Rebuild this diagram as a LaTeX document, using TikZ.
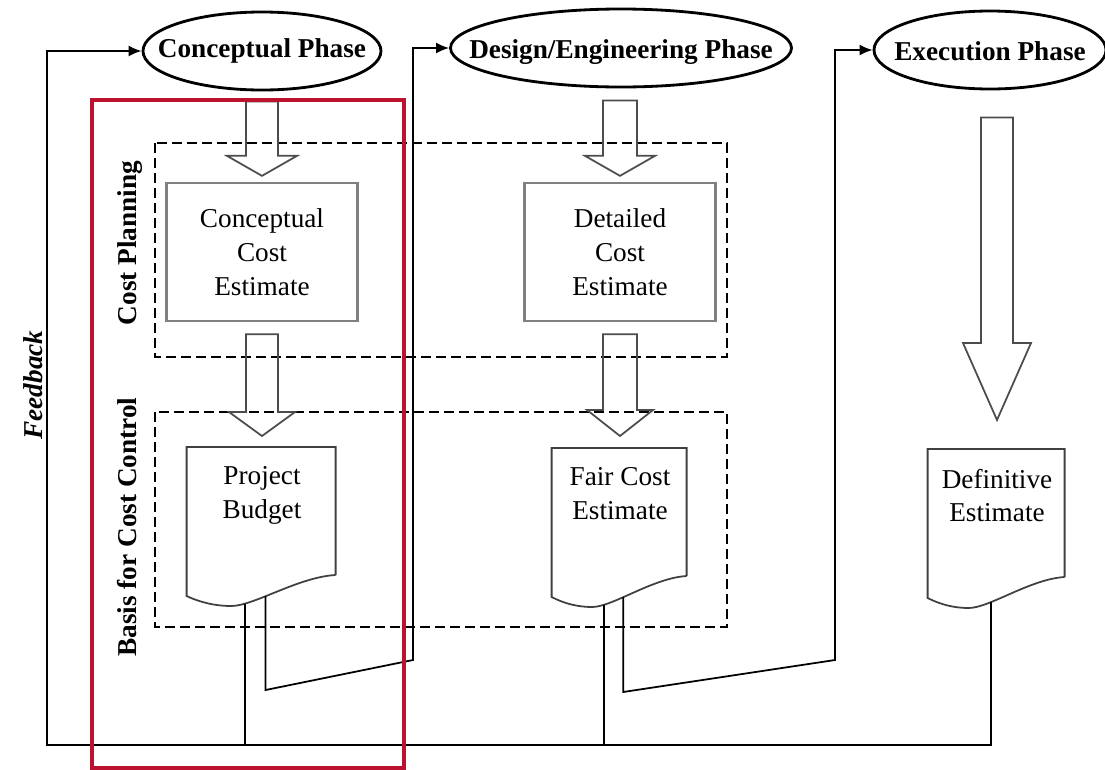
\documentclass[tikz,border=0pt]{standalone}
\usepackage{fontspec}
\setmainfont{Liberation Serif}
\usepackage{tikz}
\usetikzlibrary{arrows.meta,shapes.geometric,calc}

\definecolor{hilite}{RGB}{187,18,48}
\newcommand{\figfont}{\fontsize{15.5}{19.3}\selectfont}

% document outline under a doc node, widths in px
\newcommand{\docshape}[2]{%
  \begin{scope}[shift={(#1.north west)},xscale=#2/100]
    \draw[docline] (100,128) -- (100,0) -- (0,0) -- (0,149)
      .. controls (10,156) and (20,159) .. (30,159)
      .. controls (45,159) and (75,130) .. (100,128);
    \coordinate (#1-l) at (39,157);
    \coordinate (#1-r) at (53,149);
    \coordinate (#1-m) at (46,153);
  \end{scope}}

\begin{document}
\begin{tikzpicture}[x=0.2mm,y=-0.2mm,>={Latex[length=2.6mm,width=2.2mm]},
                    line width=1pt]
  \tikzstyle{every node}=[font=\figfont]
  \tikzstyle{phase}=[ellipse,draw,line width=1.6pt,inner sep=0pt,
                     text height=4.4mm,text depth=0.4mm,
                     minimum height=15.6mm,font=\figfont\bfseries]
  \tikzstyle{costbox}=[rectangle,draw=gray,line width=1.3pt,align=center,
                       minimum width=38.2mm,minimum height=27.6mm]
  \tikzstyle{docnode}=[rectangle,anchor=north,inner xsep=0pt,inner ysep=3.8mm,
                       align=center]
  \tikzstyle{docline}=[draw=black!75,line width=1pt]
  \tikzstyle{dashbox}=[dash pattern=on 2mm off 1mm,line width=1.5pt]
  \tikzstyle{fbline}=[line width=1pt]
  \tikzstyle{sidelabel}=[rotate=90,font=\figfont\bfseries]
  \tikzset{hollow/.style n args={3}{draw=black!70,line width=1pt,
    to path={($(\tikztostart)+(-#2,0)$) -- ($(\tikztotarget)+(-#2,-#1)$)
      -- ($(\tikztotarget)+(-#3,-#1)$) -- (\tikztotarget)
      -- ($(\tikztotarget)+(#3,-#1)$) -- ($(\tikztotarget)+(#2,-#1)$)
      -- ($(\tikztostart)+(#2,0)$) -- cycle}}}

  \useasboundingbox (0,0) rectangle (1105,770);

  % phases
  \node[phase,minimum width=47.6mm,text height=3.6mm,text depth=1.2mm] (cp) at (262,51) {\makebox[0pt]{Conceptual Phase}};
  \node[phase,minimum width=68.2mm] (dp) at (621,48) {\makebox[0pt]{Design/Engineering Phase}};
  \node[phase,minimum width=46.4mm] (ep) at (990,50) {\makebox[0pt]{Execution Phase}};

  % groups
  \draw[dashbox] (155,143) rectangle (727,357);
  \draw[dashbox] (155,412) rectangle (727,627);
  \node[sidelabel] (cplab) at (130,243) {Cost Planning};
  \node[sidelabel] (bclab) at (127,527) {Basis for Cost Control};
  \node[sidelabel,font=\figfont\bfseries\itshape] (fblab) at (33,385) {Feedback};

  % estimates
  \node[costbox] (ccb) at (262,252) {Conceptual\\Cost\\Estimate};
  \node[costbox] (dcb) at (620,252) {Detailed\\Cost\\Estimate};

  \node[docnode,minimum width=29.8mm] (pb) at (262,447) {Project\\Budget};
  \node[docnode,minimum width=27mm]   (fc) at (620,448) {Fair Cost\\Estimate};
  \node[docnode,minimum width=27.4mm] (de) at (997,449) {Definitive\\Estimate};
  \docshape{pb}{149}
  \docshape{fc}{135}
  \docshape{de}{137}

  % block arrows
  \draw[hollow={20}{16}{35}] ($(cp.south -| ccb.north)+(0,10)$) to ($(ccb.north)+(0,-6)$);
  \draw[hollow={24}{16}{33}] ($(ccb.south)+(0,12)$) to ($(pb.north)+(0,-11)$);
  \draw[hollow={20}{17}{35}] ($(dp.south -| dcb.north)+(0,12)$) to ($(dcb.north)+(0,-6)$);
  \draw[hollow={26}{17}{33}] ($(dcb.south)+(0,12)$) to ($(fc.north)+(0,-12)$);
  \draw[hollow={77}{16}{34}] ($(ep.south -| de.north)+(0,27)$) to ($(de.north)+(0,-29)$);

  % feedback
  \coordinate (fb) at (47,745);
  \coordinate (pbk) at (pb-r |- 0,690);
  \coordinate (pbt) at (413,660);
  \coordinate (fck) at (fc-r |- 0,692);
  \coordinate (fct) at (835,660);

  \draw[fbline,->] (de-m) |- (fb) |- (cp.west);
  \draw[fbline] (pb-l) -- (pb-l |- fb);
  \draw[fbline] (fc-l) -- (fc-l |- fb);
  \draw[fbline,->] (pb-r) -- (pbk) -- (pbt) |- (dp.west);
  \draw[fbline,->] (fc-r) -- (fck) -- (fct) |- (ep.west);

  % highlight
  \draw[hilite,line width=0.9mm] (92,100) rectangle (404,768);
\end{tikzpicture}
\end{document}
